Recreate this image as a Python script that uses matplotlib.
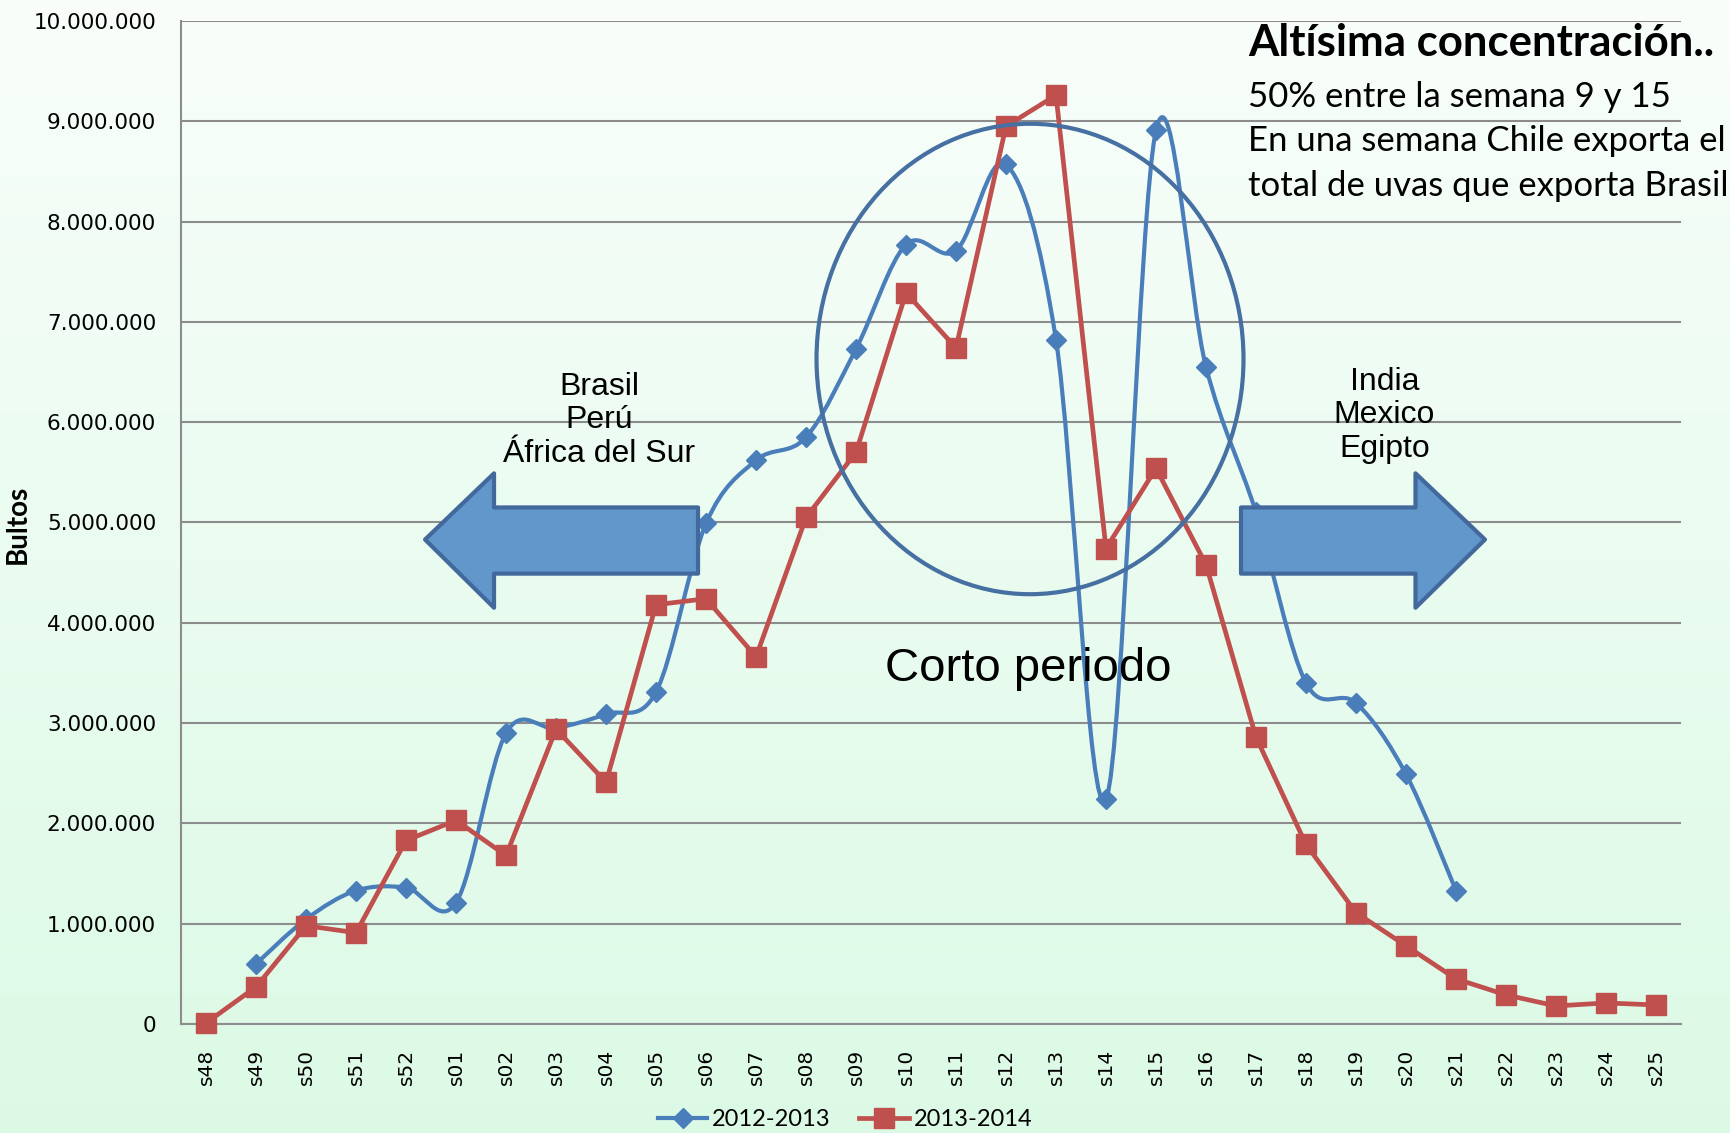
import numpy as np
import matplotlib
matplotlib.use("Agg")
import matplotlib.pyplot as plt
from matplotlib.path import Path
from matplotlib.patches import PathPatch, Ellipse, Polygon
from matplotlib.lines import Line2D
from matplotlib.ticker import FuncFormatter

# Datos (bultos por semana)
semanas = ['s48', 's49', 's50', 's51', 's52', 's01', 's02', 's03', 's04', 's05',
           's06', 's07', 's08', 's09', 's10', 's11', 's12', 's13', 's14', 's15',
           's16', 's17', 's18', 's19', 's20', 's21', 's22', 's23', 's24', 's25']

temp_2012_2013 = [np.nan, 600000, 1045000, 1330000, 1360000, 1210000, 2900000, 2950000,
                  3090000, 3310000, 4990000, 5620000, 5850000, 6730000, 7770000, 7710000,
                  8570000, 6820000, 2240000, 8910000, 6550000, 5100000, 3400000, 3200000,
                  2490000, 1330000, np.nan, np.nan, np.nan, np.nan]

temp_2013_2014 = [10000, 370000, 980000, 910000, 1830000, 2030000, 1680000, 2940000,
                  2410000, 4180000, 4240000, 3660000, 5050000, 5700000, 7290000, 6740000,
                  8950000, 9260000, 4740000, 5540000, 4580000, 2860000, 1790000, 1110000,
                  780000, 450000, 290000, 180000, 210000, 190000]

azul = '#4a7ebb'
rojo = '#c0504d'


def curva_suave(xs, ys):
    # curva tipo Excel "línea suavizada" (Bezier por Catmull-Rom)
    p = np.column_stack([xs, ys])
    n = len(p)
    verts = [p[0]]
    codes = [Path.MOVETO]
    for i in range(n - 1):
        p0 = p[i - 1] if i > 0 else p[i]
        p1 = p[i]
        p2 = p[i + 1]
        p3 = p[i + 2] if i + 2 < n else p[i + 1]
        verts += [p1 + (p2 - p0) / 6, p2 - (p3 - p1) / 6, p2]
        codes += [Path.CURVE4] * 3
    return Path(verts, codes)


fig = plt.figure(figsize=(17.31, 11.33), dpi=100)

# fondo degradado
bg = fig.add_axes([0, 0, 1, 1], zorder=-10)
grad = np.linspace(0, 1, 256).reshape(-1, 1)
top = np.array([0.975, 0.995, 0.982])
bot = np.array([0.86, 0.98, 0.90])
img = top + (bot - top) * grad[:, :, None]
bg.imshow(img, aspect='auto', extent=[0, 1, 0, 1])
bg.axis('off')

ax = fig.add_axes([0.1046, 0.0962, 0.8665, 0.8853])
ax.set_facecolor('none')

x = np.arange(len(semanas))
y1 = np.array(temp_2012_2013, dtype=float)
y2 = np.array(temp_2013_2014, dtype=float)

# serie 2012-2013 suavizada
m = ~np.isnan(y1)
ax.add_patch(PathPatch(curva_suave(x[m], y1[m]), fill=False, edgecolor=azul,
                       lw=3.0, zorder=3, capstyle='round', joinstyle='round'))
ax.plot(x[m], y1[m], linestyle='none', marker='D', markersize=10,
        color=azul, zorder=4, clip_on=False)

# serie 2013-2014
ax.plot(x, y2, color=rojo, lw=3.4, marker='s', markersize=14, zorder=4,
        clip_on=False)

ax.set_xlim(-0.5, len(semanas) - 0.5)
ax.set_ylim(0, 10000000)
ax.set_yticks(np.arange(0, 10000001, 1000000))
ax.yaxis.set_major_formatter(FuncFormatter(lambda v, p: f"{int(v):,}".replace(',', '.')))
ax.set_xticks(x)
ax.set_xticklabels(semanas, rotation=90)
ax.tick_params(axis='y', length=0, pad=18, labelsize=15.5)
ax.tick_params(axis='x', length=0, pad=18, labelsize=14.5)
ax.grid(axis='y', color='#8c8c8c', lw=1.5)
ax.set_axisbelow(True)
for s in ['top', 'right']:
    ax.spines[s].set_visible(False)
for s in ['left', 'bottom']:
    ax.spines[s].set_color('#8c8c8c')
    ax.spines[s].set_linewidth(1.5)

# círculo de concentración
ax.add_patch(Ellipse((16.48, 6630000), 8.54, 4690000, fill=False,
                     edgecolor='#4670a2', lw=3.0, zorder=6))

# flechas
flecha_izq = [(4.38, 4830000), (5.76, 5490000), (5.76, 5150000), (9.84, 5150000),
              (9.84, 4490000), (5.76, 4490000), (5.76, 4150000)]
flecha_der = [(25.58, 4830000), (24.19, 5490000), (24.19, 5150000), (20.70, 5150000),
              (20.70, 4490000), (24.19, 4490000), (24.19, 4150000)]
for pts in [flecha_izq, flecha_der]:
    ax.add_patch(Polygon(pts, closed=True, facecolor='#6197ca', edgecolor='#43699c',
                         lw=3.0, joinstyle='round', zorder=7))

ax.text(7.86, 6020000, 'Brasil\nPerú\nÁfrica del Sur', ha='center', va='center',
        fontsize=23, family='Liberation Sans', linespacing=1.15, zorder=8)
ax.text(23.57, 6070000, 'India\nMexico\nEgipto', ha='center', va='center',
        fontsize=23, family='Liberation Sans', linespacing=1.15, zorder=8)
ax.text(16.44, 3420000, 'Corto periodo', ha='center', va='baseline',
        fontsize=34, family='Liberation Sans', zorder=8)

# texto superior derecho
fig.text(1248 / 1731, 1 - 56 / 1133, 'Altísima concentración..', fontsize=31.5,
         fontweight='bold', family='Lato', va='baseline', ha='left')
lineas = ['50% entre la semana 9 y 15', 'En una semana Chile exporta el',
          'total de uvas que exporta Brasil']
for yy, t in zip([107, 151, 196], lineas):
    fig.text(1248 / 1731, 1 - yy / 1133, t, fontsize=25, family='Lato',
             va='baseline', ha='left')

fig.text(18 / 1731, 1 - 524 / 1133, 'Bultos', rotation=90, ha='center', va='center',
         fontsize=20, fontweight='bold', family='Lato')

handles = [Line2D([], [], color=azul, lw=3.0, marker='D', markersize=10),
           Line2D([], [], color=rojo, lw=3.4, marker='s', markersize=14)]
fig.legend(handles, ['2012-2013', '2013-2014'], loc='center',
           bbox_to_anchor=(845 / 1731, 1 - 1120 / 1133), ncol=2, frameon=False,
           prop={'family': 'Lato', 'size': 17}, handlelength=2.1,
           handletextpad=0.2, columnspacing=1.2)

fig.savefig('out.png', dpi=100)
